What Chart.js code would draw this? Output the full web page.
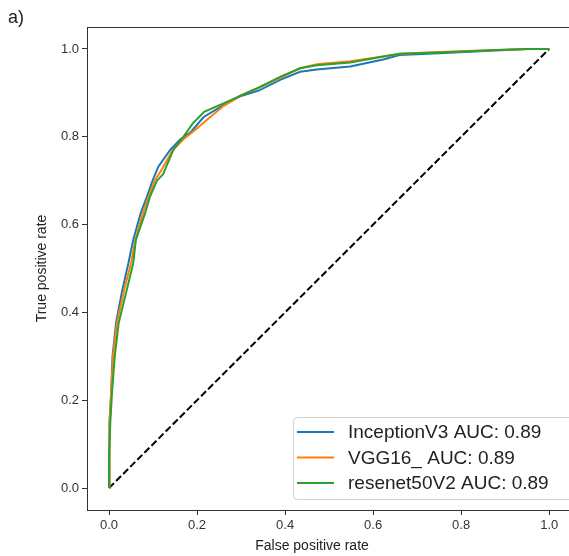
<!DOCTYPE html>
<html>
<head>
<meta charset="utf-8">
<script src="https://cdn.jsdelivr.net/npm/chart.js@4.4.0/dist/chart.umd.min.js"></script>
<style>
  html, body { margin: 0; padding: 0; background: #fff; overflow: hidden; }
  canvas { display: block; }
</style>
</head>
<body>
<canvas id="roc" width="569" height="556"></canvas>
<script>
// ROC curves
const SERIES_NAMES = ['InceptionV3 AUC: 0.89', 'VGG16_ AUC: 0.89', 'resenet50V2 AUC: 0.89'];
const SERIES_COLORS = ['#1f77b4', '#ff7f0e', '#2ca02c'];

const FPR_INCEPTION = [0, 0, 0.002, 0.005, 0.008, 0.016, 0.030, 0.044, 0.055, 0.072, 0.086, 0.099, 0.112, 0.139, 0.161, 0.185, 0.215, 0.26, 0.30, 0.34, 0.39, 0.434, 0.472, 0.548, 0.623, 0.66, 0.75, 0.866, 0.95, 1.0];
const TPR_INCEPTION = [0, 0.07, 0.15, 0.22, 0.30, 0.376, 0.45, 0.512, 0.565, 0.626, 0.663, 0.70, 0.732, 0.77, 0.793, 0.81, 0.845, 0.872, 0.893, 0.905, 0.93, 0.948, 0.953, 0.96, 0.976, 0.986, 0.99, 0.996, 1.0, 1.0];

const FPR_VGG16 = [0, 0, 0.002, 0.005, 0.009, 0.018, 0.034, 0.050, 0.060, 0.077, 0.090, 0.104, 0.119, 0.145, 0.172, 0.195, 0.222, 0.26, 0.30, 0.34, 0.39, 0.434, 0.472, 0.548, 0.623, 0.66, 0.75, 0.866, 0.95, 1.0];
const TPR_VGG16 = [0, 0.06, 0.14, 0.22, 0.30, 0.376, 0.45, 0.512, 0.565, 0.626, 0.663, 0.70, 0.724, 0.77, 0.797, 0.815, 0.838, 0.87, 0.895, 0.912, 0.935, 0.956, 0.965, 0.972, 0.983, 0.989, 0.993, 0.997, 1.0, 1.0];

const FPR_RESNET = [0, 0, 0.003, 0.007, 0.013, 0.022, 0.040, 0.055, 0.061, 0.082, 0.093, 0.109, 0.123, 0.146, 0.169, 0.190, 0.216, 0.26, 0.298, 0.336, 0.39, 0.434, 0.472, 0.548, 0.623, 0.661, 0.752, 0.866, 0.95, 1.0];
const TPR_RESNET = [0, 0.07, 0.15, 0.22, 0.30, 0.376, 0.45, 0.512, 0.565, 0.626, 0.663, 0.70, 0.715, 0.77, 0.80, 0.83, 0.857, 0.876, 0.893, 0.91, 0.937, 0.956, 0.963, 0.969, 0.983, 0.989, 0.992, 0.997, 1.0, 1.0];

const CHANCE_X = [0, 1];
const CHANCE_Y = [0, 1];

const TICK_VALUES = [0, 0.2, 0.4, 0.6, 0.8, 1.0];
const TICK_LABELS = ['0.0', '0.2', '0.4', '0.6', '0.8', '1.0'];

function pts(xs, ys) { return xs.map((x, i) => ({ x, y: ys[i] })); }

const AXIS_COLOR = '#333';
const TEXT_COLOR = '#333';
const FONT = '"Liberation Sans", Arial, sans-serif';

// legend, top spine, x title and panel tag drawn by hand (matplotlib-like placement)
const extras = {
  id: 'extras',
  afterDraw(chart) {
    const ctx = chart.ctx;
    const a = chart.chartArea;
    ctx.save();
    // top spine
    ctx.strokeStyle = AXIS_COLOR;
    ctx.lineWidth = 1;
    ctx.beginPath();
    ctx.moveTo(a.left, a.top + 0.5);
    ctx.lineTo(a.right, a.top + 0.5);
    ctx.stroke();

    // legend box
    const bx = 293.5, by = 417.5, bw = 280, bh = 82, r = 4;
    ctx.beginPath();
    ctx.roundRect(bx, by, bw, bh, r);
    ctx.fillStyle = 'rgba(255,255,255,0.8)';
    ctx.fill();
    ctx.strokeStyle = '#d0d0d0';
    ctx.stroke();
    ctx.font = '19px ' + FONT;
    ctx.textBaseline = 'middle';
    ctx.textAlign = 'left';
    SERIES_NAMES.forEach((name, i) => {
      const y = 432 + i * 25.5;
      ctx.strokeStyle = SERIES_COLORS[i];
      ctx.lineWidth = 2;
      ctx.beginPath();
      ctx.moveTo(297, y);
      ctx.lineTo(334, y);
      ctx.stroke();
      ctx.fillStyle = '#222';
      ctx.fillText(name, 348, y + 1);
    });

    // x axis title
    ctx.fillStyle = '#222';
    ctx.font = '14px ' + FONT;
    ctx.textAlign = 'center';
    ctx.textBaseline = 'middle';
    ctx.fillText('False positive rate', 312, 546);

    // panel tag
    ctx.font = '18px ' + FONT;
    ctx.textAlign = 'left';
    ctx.textBaseline = 'alphabetic';
    ctx.fillText('a)', 8, 23);
    ctx.restore();
  }
};

function setTicks(scale) {
  scale.ticks = TICK_VALUES.map(v => ({ value: v }));
}

new Chart(document.getElementById('roc').getContext('2d'), {
  type: 'line',
  data: {
    datasets: [
      { label: 'chance', data: pts(CHANCE_X, CHANCE_Y), borderColor: '#000', borderWidth: 2, borderDash: [7, 3], order: 3 },
      { label: SERIES_NAMES[0], data: pts(FPR_INCEPTION, TPR_INCEPTION), borderColor: SERIES_COLORS[0], borderWidth: 2, order: 2 },
      { label: SERIES_NAMES[1], data: pts(FPR_VGG16, TPR_VGG16), borderColor: SERIES_COLORS[1], borderWidth: 2, order: 1 },
      { label: SERIES_NAMES[2], data: pts(FPR_RESNET, TPR_RESNET), borderColor: SERIES_COLORS[2], borderWidth: 2, order: 0 },
    ],
  },
  options: {
    responsive: false,
    animation: false,
    devicePixelRatio: 1,
    layout: { padding: { top: 27, right: 0, bottom: 0, left: 0 } },
    elements: { point: { radius: 0 }, line: { tension: 0, fill: false } },
    plugins: { legend: { display: false }, tooltip: { enabled: false } },
    scales: {
      x: {
        type: 'linear', min: -0.05, max: 1.045,
        afterBuildTicks: setTicks,
        afterFit: s => { s.height = 46; },
        grid: { display: true, drawOnChartArea: false, drawTicks: true, tickLength: 5, color: AXIS_COLOR },
        border: { display: true, color: AXIS_COLOR, width: 1 },
        ticks: { color: TEXT_COLOR, font: { family: FONT, size: 13 }, padding: 3, maxRotation: 0,
                 callback: (v, i) => TICK_LABELS[i] },
      },
      y: {
        type: 'linear', min: -0.05, max: 1.05,
        afterBuildTicks: setTicks,
        afterFit: s => { s.width = 87; },
        grid: { display: true, drawOnChartArea: false, drawTicks: true, tickLength: 5, color: AXIS_COLOR },
        border: { display: true, color: AXIS_COLOR, width: 1 },
        ticks: { color: TEXT_COLOR, font: { family: FONT, size: 13 }, padding: 3,
                 callback: (v, i) => TICK_LABELS[i] },
        title: { display: true, text: 'True positive rate', color: '#222',
                 font: { family: FONT, size: 14 }, padding: { top: 34, bottom: 0 } },
      },
    },
  },
  plugins: [extras],
});
</script>
</body>
</html>
